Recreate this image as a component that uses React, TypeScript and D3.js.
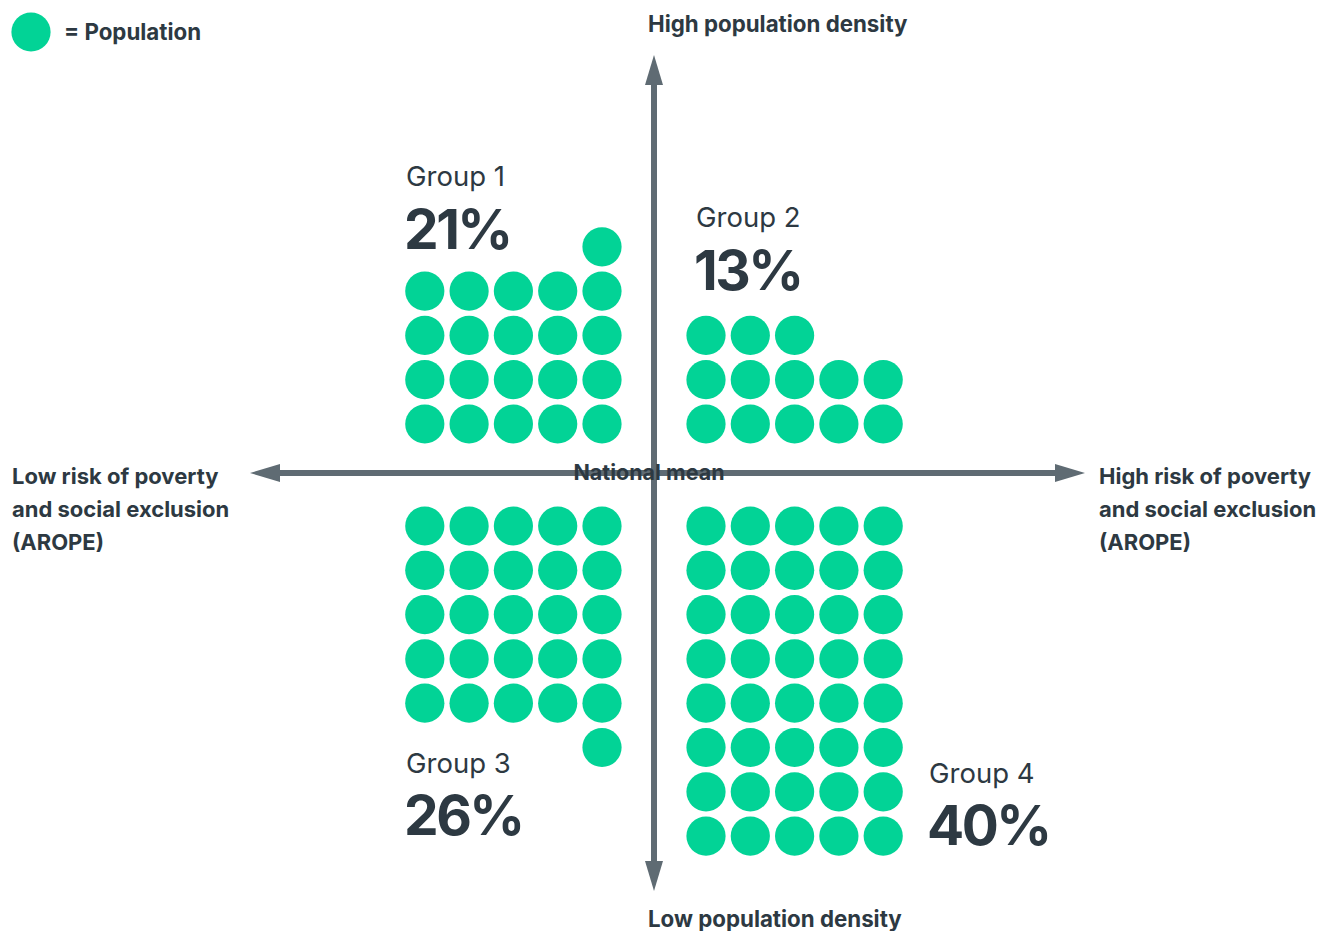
import React from "react";
import * as d3 from "d3";

const groupNames = ["Group 1", "Group 2", "Group 3", "Group 4"];
const groupValues = [21, 13, 26, 40];
// quadrant: horizontal side (-1 left / 1 right), vertical side (-1 up / 1 down)
const groupSideX = [-1, 1, -1, 1];
const groupSideY = [-1, -1, 1, 1];

const axisLabels = {
  top: "High population density",
  bottom: "Low population density",
  left: ["Low risk of poverty", "and social exclusion", "(AROPE)"],
  right: ["High risk of poverty", "and social exclusion", "(AROPE)"],
  center: "National mean",
};
const legendLabel = "= Population";

const W = 1318;
const H = 931;
const CX = 654;
const CY = 473;
const COLS = 5;
const STEP = 44.3;
const R = 19.6;
const GAP_X = 52;
const GAP_UP = 49;
const GAP_DOWN = 53;

const GREEN = "#02d396";
const AXIS = "#5f6b73";
const TEXT = "#2d3942";
const FONT = "Inter, 'Noto Sans', sans-serif";

// offset scales from the axis (index 0 = nearest the axis)
const colOffset = d3.scaleLinear().domain([0, 1]).range([GAP_X, GAP_X + STEP]);
const rowOffsetUp = d3.scaleLinear().domain([0, 1]).range([GAP_UP, GAP_UP + STEP]);
const rowOffsetDown = d3.scaleLinear().domain([0, 1]).range([GAP_DOWN, GAP_DOWN + STEP]);

const labelPos = [
  { x: 406, y1: 186, y2: 249 },
  { x: 696, y1: 227, y2: 290 },
  { x: 406, y1: 773, y2: 835 },
  { x: 929, y1: 783, y2: 845 },
];

export default function App() {
  const dots: { x: number; y: number; key: string }[] = [];
  groupValues.forEach((v, g) => {
    for (let i = 0; i < v; i++) {
      const row = Math.floor(i / COLS);
      const col = i % COLS;
      const dx = colOffset(col) * groupSideX[g];
      const dy = (groupSideY[g] < 0 ? rowOffsetUp(row) : rowOffsetDown(row)) * groupSideY[g];
      dots.push({ x: CX + dx, y: CY + dy, key: `${g}-${i}` });
    }
  });

  const vTop = 55, vBot = 891, hLeft = 250, hRight = 1085;
  const headLen = 30, headHalf = 9;
  const LBL = 22.3;
  const SIDE = 22;

  return (
    <svg width={W} height={H} style={{ position: "absolute", left: 0, top: 0 }} fontFamily={FONT}>
      <rect width={W} height={H} fill="#fff" />
      {/* axes */}
      <line x1={CX} x2={CX} y1={vTop + headLen - 2} y2={vBot - headLen + 2} stroke={AXIS} strokeWidth={6} />
      <line x1={hLeft + headLen - 2} x2={hRight - headLen + 2} y1={CY} y2={CY} stroke={AXIS} strokeWidth={6} />
      <path d={`M${CX},${vTop} L${CX + headHalf},${vTop + headLen} L${CX - headHalf},${vTop + headLen} Z`} fill={AXIS} />
      <path d={`M${CX},${vBot} L${CX + headHalf},${vBot - headLen} L${CX - headHalf},${vBot - headLen} Z`} fill={AXIS} />
      <path d={`M${hLeft},${CY} L${hLeft + headLen},${CY - headHalf} L${hLeft + headLen},${CY + headHalf} Z`} fill={AXIS} />
      <path d={`M${hRight},${CY} L${hRight - headLen},${CY - headHalf} L${hRight - headLen},${CY + headHalf} Z`} fill={AXIS} />

      {/* dots */}
      {dots.map((d) => (
        <circle key={d.key} cx={d.x} cy={d.y} r={R} fill={GREEN} />
      ))}

      {/* national mean */}
      <text x={649} y={480} textAnchor="middle" fontSize={21.5} fontWeight={700} fill={TEXT}>
        {axisLabels.center}
      </text>

      {/* axis labels */}
      <text x={648} y={32} fontSize={LBL} fontWeight={700} fill={TEXT}>{axisLabels.top}</text>
      <text x={648} y={927} fontSize={LBL} fontWeight={700} fill={TEXT}>{axisLabels.bottom}</text>
      {axisLabels.left.map((t, i) => (
        <text key={"l" + i} x={12} y={484 + i * 33} fontSize={SIDE} fontWeight={700} fill={TEXT}>{t}</text>
      ))}
      {axisLabels.right.map((t, i) => (
        <text key={"r" + i} x={1099} y={484 + i * 33} fontSize={SIDE} fontWeight={700} fill={TEXT}>{t}</text>
      ))}

      {/* group labels */}
      {groupNames.map((n, g) => (
        <g key={n}>
          <text x={labelPos[g].x} y={labelPos[g].y1} fontSize={27.5} fontWeight={400} fill={TEXT}>{n}</text>
          <text x={labelPos[g].x - 2} y={labelPos[g].y2} fontSize={55} fontWeight={700} fill={TEXT} letterSpacing={-2.5}>
            {groupValues[g] + "%"}
          </text>
        </g>
      ))}

      {/* legend */}
      <circle cx={31} cy={32} r={R} fill={GREEN} />
      <text x={64} y={40} fontSize={LBL} fontWeight={700} fill={TEXT}>{legendLabel}</text>
    </svg>
  );
}
